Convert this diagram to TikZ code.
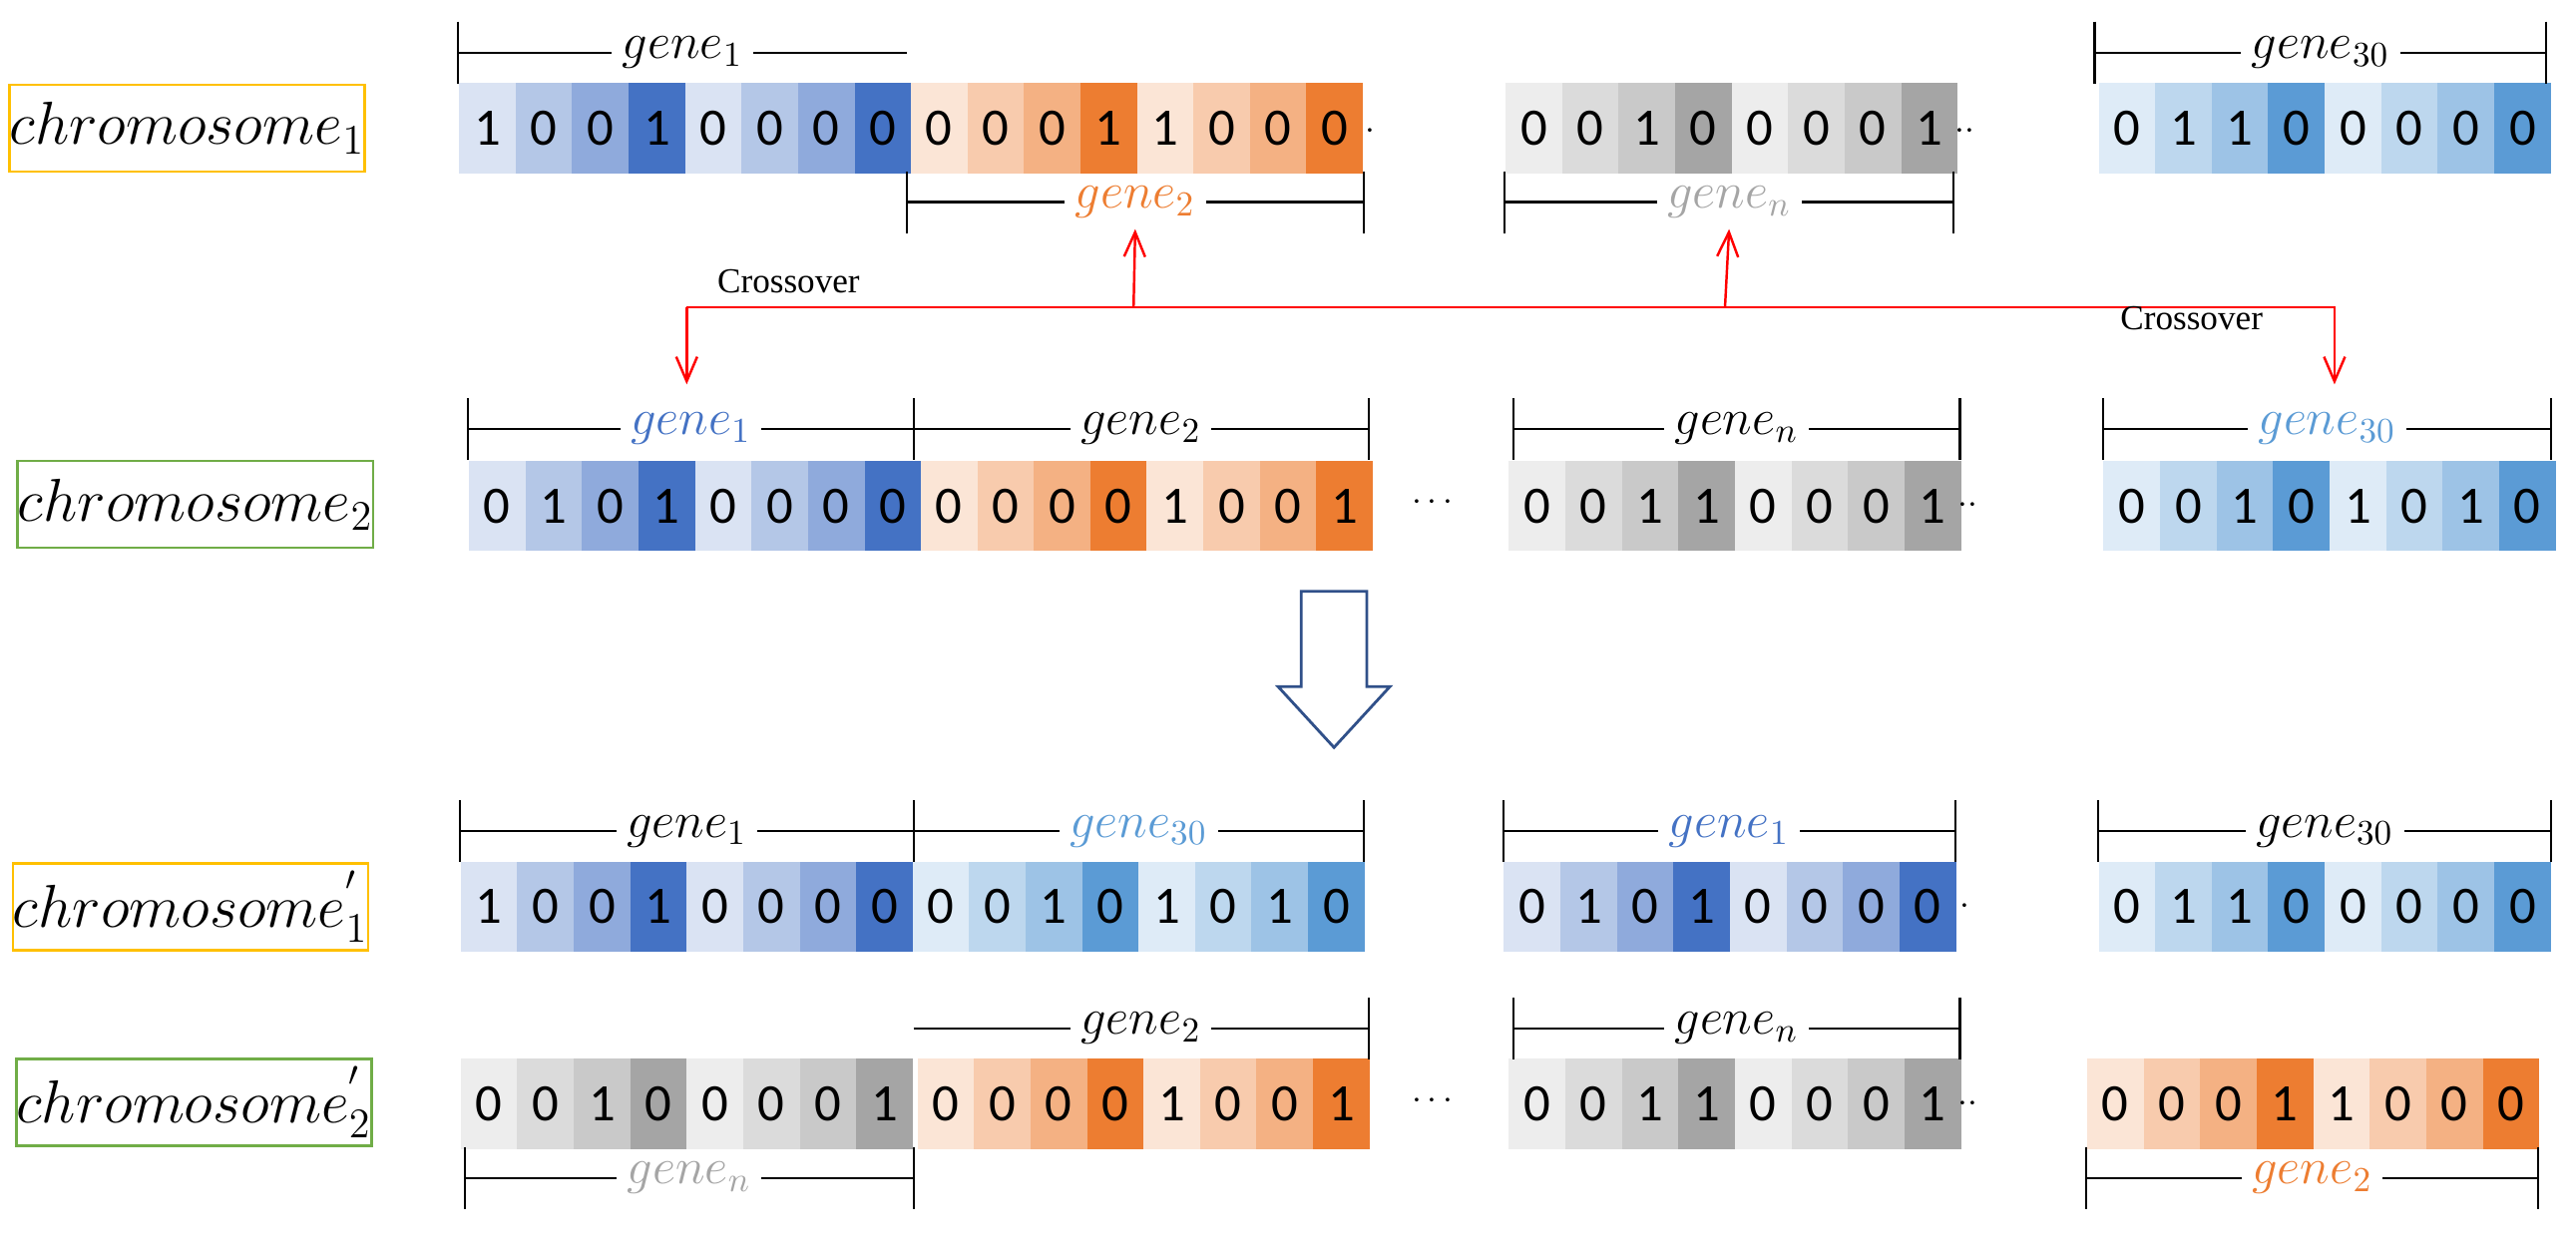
\documentclass[tikz,border=0pt]{standalone}
\usepackage{fontspec}
\setmainfont{Liberation Serif}
\newfontfamily\dig{Carlito}
\usetikzlibrary{arrows.meta}
\definecolor{b1}{HTML}{DAE3F3}\definecolor{b2}{HTML}{B4C7E7}\definecolor{b3}{HTML}{8FAADC}\definecolor{b4}{HTML}{4472C4}
\definecolor{o1}{HTML}{FBE5D6}\definecolor{o2}{HTML}{F8CBAD}\definecolor{o3}{HTML}{F4B183}\definecolor{o4}{HTML}{ED7D31}
\definecolor{g1}{HTML}{EDEDED}\definecolor{g2}{HTML}{DBDBDB}\definecolor{g3}{HTML}{C9C9C9}\definecolor{g4}{HTML}{A5A5A5}
\definecolor{l1}{HTML}{DEEBF7}\definecolor{l2}{HTML}{BDD7EE}\definecolor{l3}{HTML}{9DC3E6}\definecolor{l4}{HTML}{5B9BD5}
\definecolor{ybox}{HTML}{FFC000}\definecolor{gbox}{HTML}{70AD47}
\tikzset{
 cell/.style={minimum width=0.5665cm,minimum height=0.906cm,inner sep=0pt,font=\dig\fontsize{15}{15}\selectfont},
 chrom/.style={draw,line width=0.8pt,minimum width=3.33cm,minimum height=0.87cm,inner sep=0pt,font=\LARGE},
 glab/.style={fill=white,inner sep=3pt,font=\Large},
 brk/.style={line width=0.6pt},
 red/.style={draw=red,line width=0.7pt},
 ctext/.style={font=\normalsize}
}
\newcommand\gcells[5]{%
 \foreach \d [count=\i from 0] in {#5} {
  \pgfmathtruncatemacro\k{mod(\i,4)+1}
  \node[cell,fill=#4\k,anchor=north west] (#1-\i) at ({#2+\i*34.4},#3) {\d};
 }}
% bracket: name, x1, x2, y, label, color, lefttick(1/0), righttick(1/0)
\newcommand\gbr[8]{%
 \coordinate (#1-l) at (#2,#4); \coordinate (#1-r) at (#3,#4);
 \draw[brk] (#1-l) -- (#1-r);
 \ifnum#7=1 \draw[brk] ([yshift=0.31cm]#1-l) -- ([yshift=-0.31cm]#1-l);\fi
 \ifnum#8=1 \draw[brk] ([yshift=0.31cm]#1-r) -- ([yshift=-0.31cm]#1-r);\fi
 \node[glab,text=#6] (#1-t) at ($(#1-l)!0.5!(#1-r)$) {$gene_{#5}$};
}
\usetikzlibrary{calc}
\begin{document}
\begin{tikzpicture}[x=0.016467cm,y=-0.016467cm]
\useasboundingbox (0,0) rectangle (1568,765);
% Row 1
\node[chrom,draw=ybox] (c1) at (114,78) {$chromosome_1$};
\gcells{r1a}{279}{50}{b}{1,0,0,1,0,0,0,0}
\gcells{r1b}{554}{50}{o}{0,0,0,1,1,0,0,0}
\node[font=\bfseries] (d1) at (834,80) {$\cdot$};
\gcells{r1c}{916}{50}{g}{0,0,1,0,0,0,0,1}
\node (d2) at (1196,80) {$\cdot\cdot$};
\gcells{r1d}{1277}{50}{l}{0,1,1,0,0,0,0,0}
\gbr{k1}{279}{552}{32}{1}{black}{1}{0}
\gbr{k2}{552}{830}{123}{2}{o4}{1}{1}
\gbr{k3}{916}{1189}{123}{n}{g4}{1}{1}
\gbr{k4}{1275}{1550}{32}{30}{black}{1}{1}
% red crossover lines
\coordinate (rl) at (418,187); \coordinate (rr) at (1421,187);
\coordinate (ra) at (690,187); \coordinate (rb) at (1050,187);
\draw[red,-{Straight Barb[length=7pt,width=6pt]}] (rl) -- (rr) -- (1421,234);
\draw[red,-{Straight Barb[length=7pt,width=6pt]}] (rl) -- (418,234);
\draw[red,-{Straight Barb[length=7pt,width=6pt]}] (ra) -- (k2-t.south);
\draw[red,-{Straight Barb[length=7pt,width=6pt]}] (rb) -- (k3-t.south);
\node[ctext] (x1) at (480,171) {Crossover};
\node[ctext] (x2) at (1334,194) {Crossover};
% Row 2
\node[chrom,draw=gbox] (c2) at (119,307) {$chromosome_2$};
\gcells{r2a}{285}{280}{b}{0,1,0,1,0,0,0,0}
\gcells{r2b}{560}{280}{o}{0,0,0,0,1,0,0,1}
\node (d3) at (872,306) {$\cdots$};
\gcells{r2c}{918}{280}{g}{0,0,1,1,0,0,0,1}
\node (d4) at (1198,308) {$\cdot\cdot$};
\gcells{r2d}{1280}{280}{l}{0,0,1,0,1,0,1,0}
\gbr{k5}{285}{556}{261}{1}{b4}{1}{0}
\gbr{k6}{556}{833}{261}{2}{black}{1}{1}
\gbr{k7}{921}{1193}{261}{n}{black}{1}{1}
\gbr{k8}{1280}{1553}{261}{30}{l4}{1}{1}
% big arrow
\draw[draw=b4!70!black,fill=white,line width=0.8pt] (792,360) -- (832,360) -- (832,418) -- (846,418) -- (812,455) -- (778,418) -- (792,418) -- cycle;
% Row 3
\node[chrom,draw=ybox] (c3) at (116,552) {$chromosome_1^{'}$};
\gcells{r3a}{280}{524}{b}{1,0,0,1,0,0,0,0}
\gcells{r3b}{555}{524}{l}{0,0,1,0,1,0,1,0}
\gcells{r3c}{915}{524}{b}{0,1,0,1,0,0,0,0}
\node (d5) at (1196,552) {$\cdot$};
\gcells{r3d}{1277}{524}{l}{0,1,1,0,0,0,0,0}
\gbr{k9}{280}{556}{506}{1}{black}{1}{0}
\gbr{k10}{556}{830}{506}{30}{l4}{1}{1}
\gbr{k11}{915}{1190}{506}{1}{b4}{1}{1}
\gbr{k12}{1277}{1553}{506}{30}{black}{1}{1}
% Row 4
\node[chrom,draw=gbox] (c4) at (118,671) {$chromosome_2^{'}$};
\gcells{r4a}{280}{644}{g}{0,0,1,0,0,0,0,1}
\gcells{r4b}{558}{644}{o}{0,0,0,0,1,0,0,1}
\node (d6) at (872,670) {$\cdots$};
\gcells{r4c}{918}{644}{g}{0,0,1,1,0,0,0,1}
\node (d7) at (1198,672) {$\cdot\cdot$};
\gcells{r4d}{1270}{644}{o}{0,0,0,1,1,0,0,0}
\gbr{k13}{556}{833}{626}{2}{black}{0}{1}
\gbr{k14}{283}{556}{717}{n}{g4}{1}{1}
\gbr{k15}{921}{1193}{626}{n}{black}{1}{1}
\gbr{k16}{1270}{1545}{717}{2}{o4}{1}{1}
\end{tikzpicture}
\end{document}
